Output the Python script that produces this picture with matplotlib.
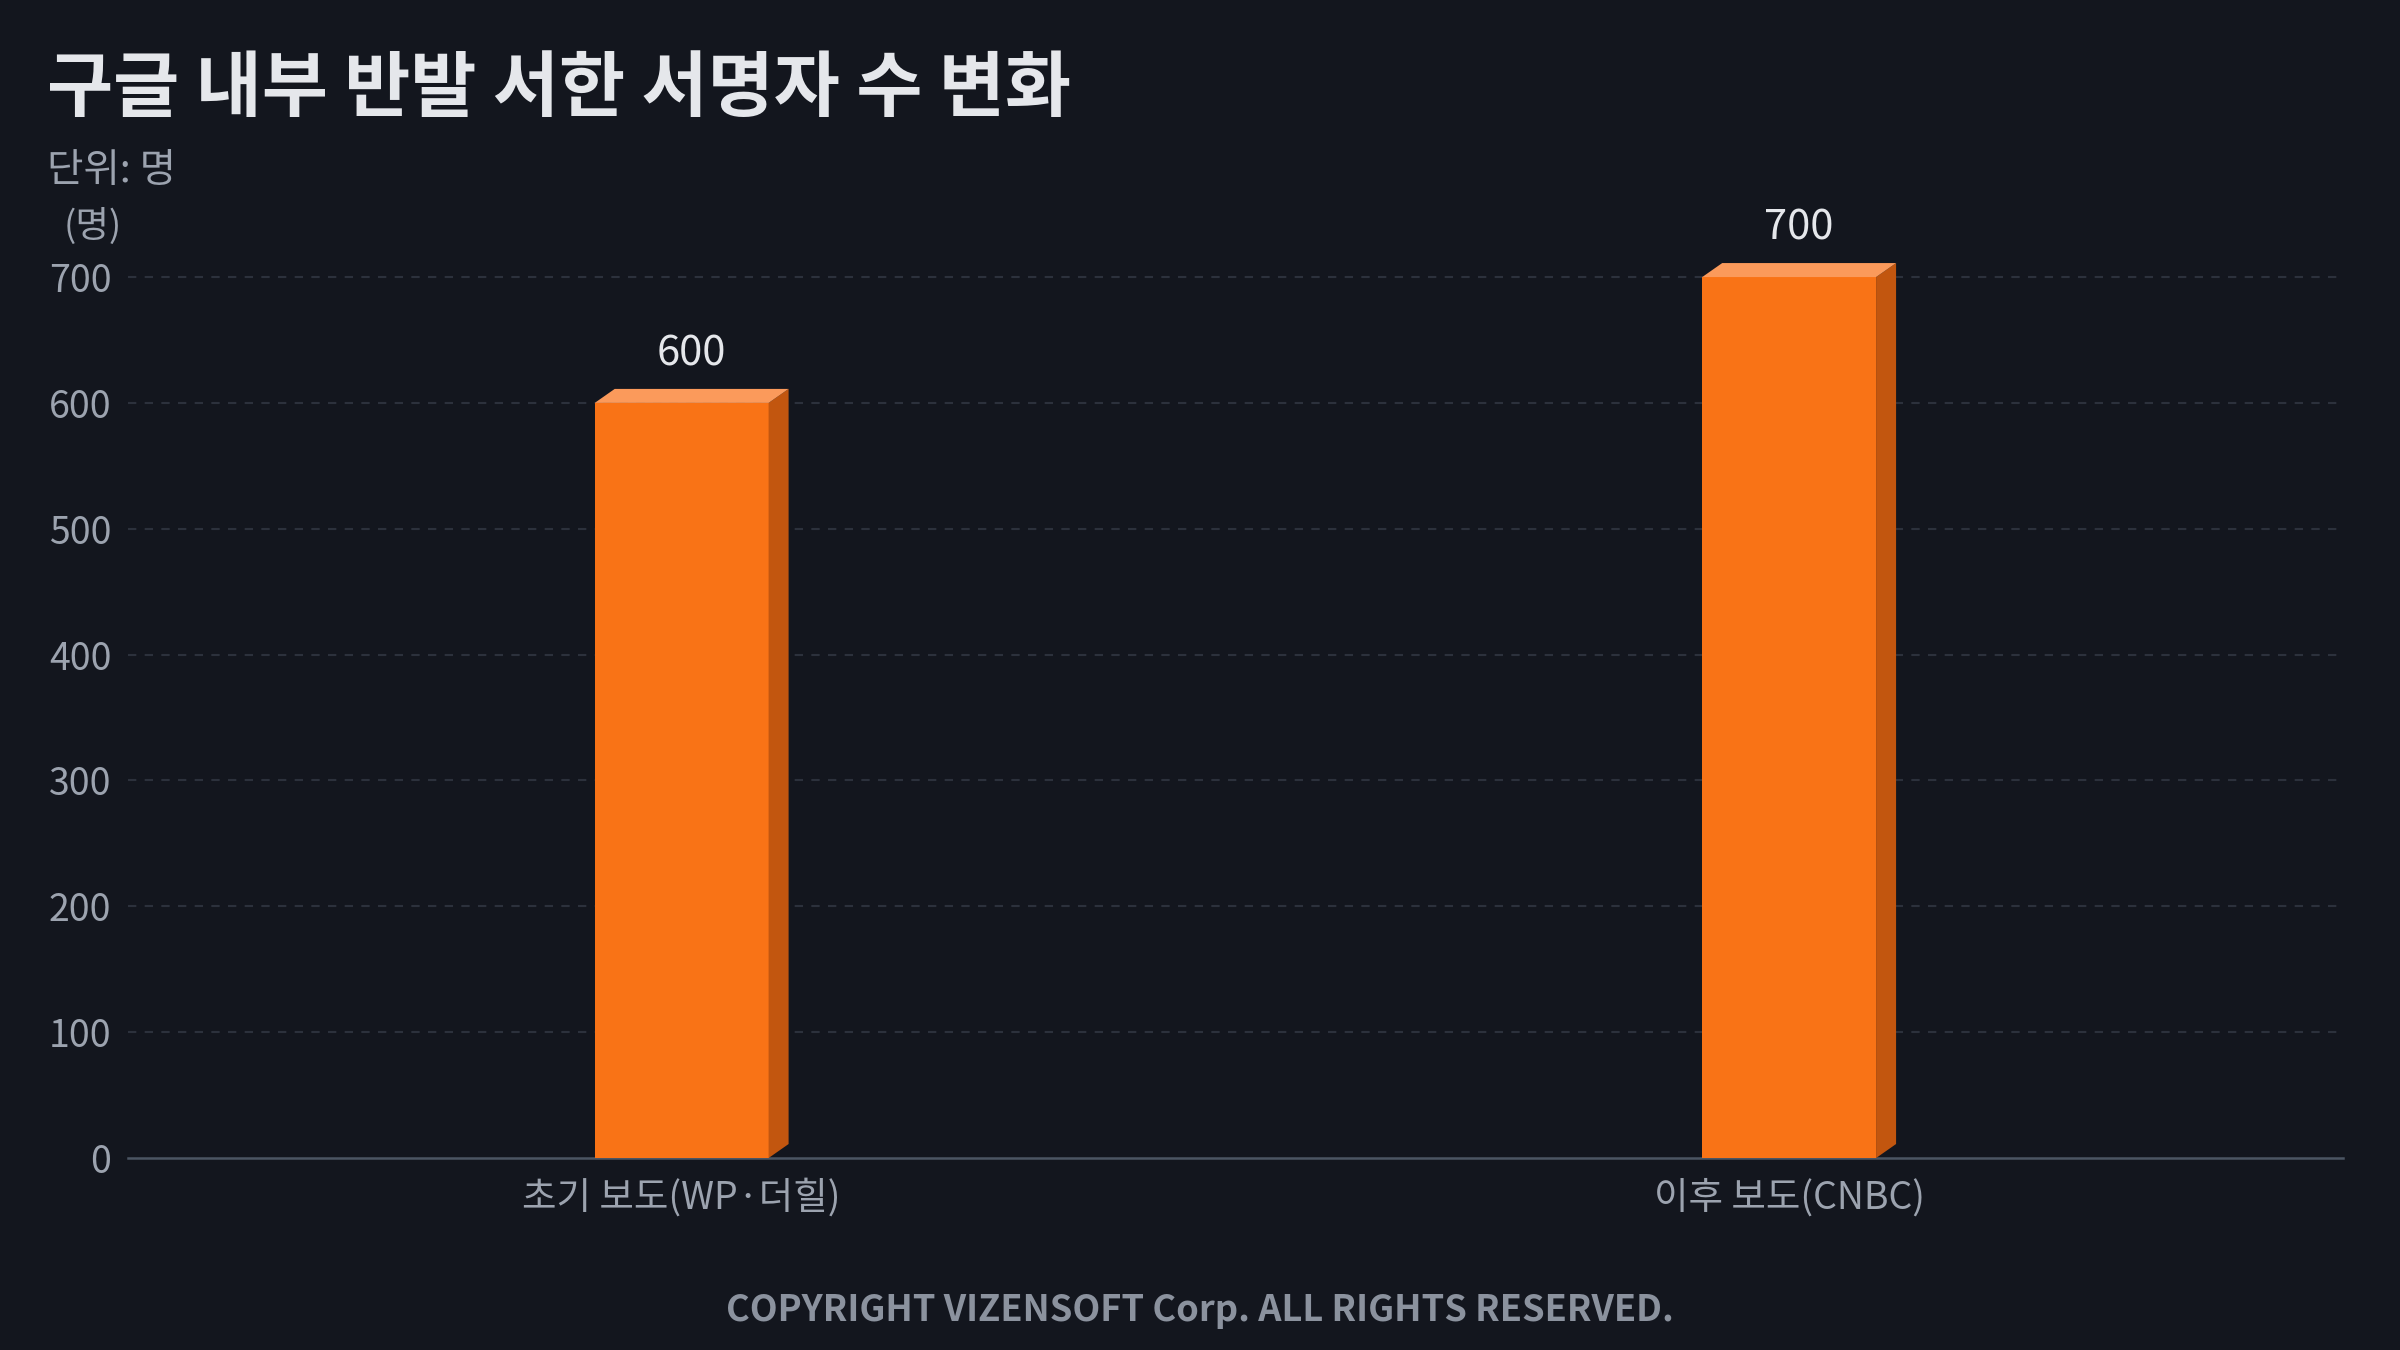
import matplotlib
matplotlib.use("Agg")
import matplotlib.pyplot as plt
from matplotlib.patches import Polygon

plt.rcParams['font.family'] = ['Noto Sans CJK KR', 'DejaVu Sans']

categories = ["초기 보도(WP·더힐)", "이후 보도(CNBC)"]
values = [600, 700]
yticks = [0, 100, 200, 300, 400, 500, 600, 700]
title = "구글 내부 반발 서한 서명자 수 변화"
subtitle = "단위: 명"
unit_label = "(명)"
footer = "COPYRIGHT VIZENSOFT Corp. ALL RIGHTS RESERVED."

BG = "#13161e"
FRONT = "#f97316"
TOP = "#fb9a5b"
SIDE = "#c2560f"
TEXT = "#e5e7eb"
MUTED = "#9ca3af"

fig = plt.figure(figsize=(16, 9), dpi=150, facecolor=BG)
ax = fig.add_axes([0.0533, 0.1422, 0.9229, 0.6852])
ax.set_facecolor(BG)

x = list(range(len(categories)))
bw = 0.157
ax.set_xlim(-0.5, len(categories) - 0.5)
ax.set_ylim(0, 735)

# depth in data units from pixel offsets
fig.canvas.draw()
bbox = ax.get_window_extent()
xr = ax.get_xlim()[1] - ax.get_xlim()[0]
yr = ax.get_ylim()[1] - ax.get_ylim()[0]
dx = 20 / bbox.width * xr
dy = 14 / bbox.height * yr

ax.bar(x, values, width=bw, color=FRONT, zorder=3, linewidth=0)
for xi, v in zip(x, values):
    r = xi + bw / 2
    l = xi - bw / 2
    side = Polygon([(r, 0), (r + dx, dy), (r + dx, v + dy), (r, v)],
                   closed=True, facecolor=SIDE, edgecolor='none', zorder=3)
    top = Polygon([(l, v), (l + dx, v + dy), (r + dx, v + dy), (r, v)],
                  closed=True, facecolor=TOP, edgecolor='none', zorder=3)
    ax.add_patch(side)
    ax.add_patch(top)
    ax.annotate(f"{v}", xy=(xi + dx / 2, v + dy), xytext=(0, 7),
                textcoords="offset points", ha="center", va="bottom",
                color=TEXT, fontsize=20, zorder=4)

ax.set_yticks(yticks)
ax.set_yticklabels([str(t) for t in yticks])
ax.set_xticks(x)
ax.set_xticklabels(categories)
ax.tick_params(axis='y', length=0, pad=8, labelsize=18, labelcolor=MUTED)
ax.tick_params(axis='x', length=0, pad=10, labelsize=18, labelcolor=MUTED)

for t in yticks[1:]:
    ax.axhline(t, color="#2c313c", linewidth=1.0, linestyle=(0, (4, 4)), zorder=1)

for s in ["top", "right", "left"]:
    ax.spines[s].set_visible(False)
ax.spines["bottom"].set_color("#4b5563")
ax.spines["bottom"].set_linewidth(1.2)

fig.text(0.0196, 0.933, title, color=TEXT, fontsize=34.5, fontweight="bold",
         ha="left", va="center")
fig.text(0.0196, 0.873, subtitle, color=MUTED, fontsize=19, ha="left", va="center")
fig.text(0.0385, 0.832, unit_label, color=MUTED, fontsize=17.5, ha="center", va="center")
fig.text(0.5, 0.0295, footer, color="#8b929e", fontsize=17.4, fontweight="bold",
         ha="center", va="center")

fig.savefig("out.png", dpi=150, facecolor=BG)
